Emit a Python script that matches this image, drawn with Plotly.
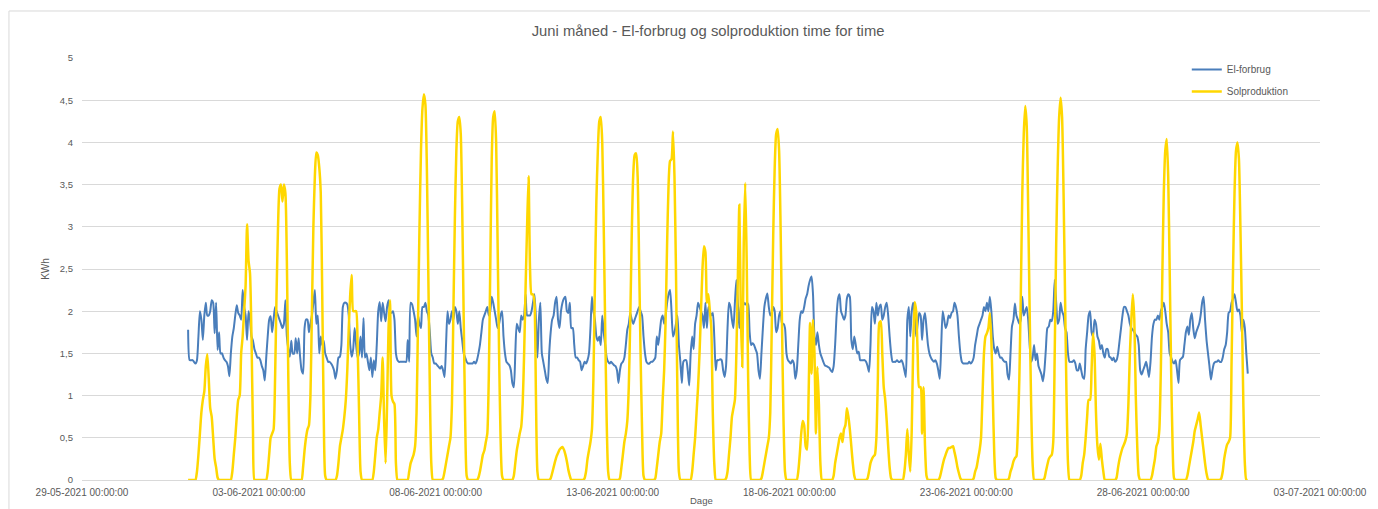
import pandas as pd
import plotly.graph_objects as go

# Hourly values, one list of 24 hours per day, 1-30 June 2021
el_forbrug_dage = [
    [1.78,1.42,1.42,1.42,1.4,1.38,1.42,1.7,2.0,1.9,1.66,1.95,2.1,1.95,1.95,2.0,2.13,2.1,1.74,2.1,1.54,1.75,1.5,1.5],
    [1.45,1.42,1.4,1.35,1.23,1.5,1.7,1.8,1.95,2.07,1.98,1.95,1.9,2.25,2.05,1.95,1.66,2.0,1.9,1.7,1.65,1.55,1.5,1.45],
    [1.45,1.42,1.35,1.3,1.18,1.45,1.7,1.9,1.94,1.75,1.9,2.05,2.0,1.95,1.9,1.85,1.8,1.85,2.13,1.7,1.55,1.46,1.65,1.5],
    [1.5,1.68,1.5,1.68,1.46,1.3,1.26,1.8,1.9,1.9,1.75,1.85,1.95,2.1,2.25,1.85,1.95,1.5,1.7,1.6,1.65,1.5,1.45,1.4],
    [1.4,1.38,1.35,1.3,1.2,1.3,1.45,1.46,1.6,2.05,2.1,2.1,2.08,1.95,1.6,1.46,1.55,1.8,1.6,1.45,1.5,1.7,1.45,1.92],
    [1.45,1.5,1.4,1.3,1.45,1.22,1.42,1.3,1.6,2.0,2.11,1.88,2.1,1.98,1.88,2.05,2.13,2.0,1.98,2.0,1.9,1.5,1.42,1.4],
    [1.4,1.4,1.4,1.4,1.4,1.66,1.4,2.1,2.08,2.0,1.9,1.7,1.95,1.85,1.8,2.05,2.05,2.1,2.0,1.95,1.75,1.5,1.45,1.38],
    [1.38,1.36,1.34,1.32,1.35,1.3,1.22,1.6,2.0,1.85,1.9,2.0,1.9,2.05,2.0,1.85,2.0,1.8,1.65,1.5,1.45,1.4,1.38,1.38],
    [1.38,1.38,1.4,1.38,1.42,1.5,1.6,1.75,1.9,1.95,2.0,2.05,1.95,2.0,2.17,2.1,2.0,1.9,1.8,1.85,1.95,2.0,1.7,1.5],
    [1.4,1.38,1.36,1.3,1.15,1.1,1.5,1.85,1.8,1.75,1.95,1.9,1.95,2.2,1.95,1.95,1.95,2.0,2.1,2.2,1.9,1.45,1.9,2.1],
    [1.5,1.4,1.3,1.2,1.15,1.5,1.75,1.9,1.95,2.1,2.17,1.9,1.8,2.0,2.1,2.15,2.17,2.0,1.98,2.1,1.8,1.8,1.6,1.45],
    [1.45,1.42,1.4,1.3,1.35,1.4,1.38,1.42,1.5,1.8,2.17,2.0,1.9,1.7,1.65,1.7,1.6,1.95,1.75,1.6,1.45,1.4,1.38,1.4],
    [1.38,1.36,1.35,1.3,1.15,1.3,1.38,1.4,1.45,1.6,1.78,1.85,1.98,1.9,1.85,1.9,1.95,2.0,2.05,2.0,1.95,1.7,1.5,1.4],
    [1.38,1.38,1.4,1.4,1.42,1.45,1.7,1.6,1.75,1.9,1.95,1.85,1.95,2.1,2.2,2.25,2.0,1.7,1.75,1.85,1.95,1.6,1.4,1.15],
    [1.4,1.42,1.42,1.3,1.12,1.5,1.7,1.55,1.85,1.95,2.1,2.05,2.0,1.95,1.8,2.1,1.8,2.05,2.0,1.95,1.98,1.7,1.3,1.42],
    [1.42,1.43,1.42,1.3,1.22,1.35,1.8,2.1,2.05,1.9,1.8,2.1,2.37,2.1,1.8,2.05,2.1,2.1,2.08,2.1,2.08,1.75,1.6,1.62],
    [1.6,1.55,1.5,1.3,1.2,1.5,1.8,2.05,2.15,2.21,2.05,1.95,1.98,2.05,2.0,1.75,1.8,1.95,2.0,1.85,1.85,1.8,1.5,1.42],
    [1.4,1.38,1.42,1.38,1.2,1.3,1.6,1.9,2.0,1.98,2.05,2.15,2.2,2.3,2.37,2.41,2.2,1.7,1.6,1.75,1.6,1.5,1.45,1.4],
    [1.36,1.35,1.34,1.33,1.3,1.28,1.35,1.6,1.95,2.15,2.2,2.0,1.95,1.9,1.95,2.15,2.2,2.17,1.66,1.55,1.7,1.6,1.5,1.52],
    [1.42,1.42,1.42,1.42,1.4,1.35,1.28,1.6,2.05,2.0,1.85,2.1,1.95,2.05,2.08,1.9,1.95,2.05,2.1,1.95,1.7,1.5,1.4,1.4],
    [1.4,1.42,1.4,1.4,1.42,1.38,1.3,1.22,1.9,2.05,1.7,2.0,2.1,1.95,1.7,1.85,1.98,1.95,1.66,1.9,1.98,1.8,1.6,1.5],
    [1.45,1.42,1.4,1.42,1.38,1.3,1.2,1.6,2.0,1.9,1.8,1.85,1.95,1.92,1.98,2.0,2.1,2.05,1.95,1.7,1.5,1.4,1.38,1.38],
    [1.38,1.38,1.4,1.38,1.4,1.45,1.6,1.7,1.8,1.85,1.9,1.95,2.05,2.0,2.1,2.0,2.17,2.0,1.7,1.55,1.5,1.58,1.5,1.45],
    [1.45,1.42,1.4,1.4,1.25,1.19,1.5,1.82,1.9,2.09,1.95,1.9,1.85,1.9,2.17,1.95,2.0,2.05,1.9,1.6,1.4,1.45,1.6,1.42],
    [1.5,1.35,1.3,1.25,1.17,1.3,1.55,1.8,1.82,1.9,1.88,2.0,2.37,2.1,1.85,1.9,2.1,2.0,1.95,1.8,1.75,1.5,1.4,1.4],
    [1.4,1.42,1.38,1.3,1.3,1.38,1.3,1.22,1.2,1.55,1.75,1.95,2.0,1.75,1.7,1.9,1.85,1.7,1.65,1.55,1.6,1.5,1.45,1.55],
    [1.55,1.46,1.45,1.42,1.45,1.4,1.42,1.5,1.65,1.8,1.95,2.05,2.05,2.0,1.95,1.85,1.8,1.78,1.75,1.72,1.7,1.6,1.3,1.25],
    [1.3,1.35,1.4,1.32,1.22,1.4,1.7,1.85,1.9,1.9,1.95,1.9,2.0,2.05,2.1,2.0,1.85,1.75,1.5,1.45,1.4,1.38,1.42,1.3],
    [1.15,1.42,1.44,1.46,1.6,1.75,1.82,1.72,1.9,1.98,1.8,1.68,1.75,1.8,1.85,1.95,2.1,2.17,1.9,1.66,1.5,1.35,1.19,1.3],
    [1.38,1.4,1.4,1.42,1.4,1.4,1.45,1.55,1.6,1.75,1.98,2.0,2.1,2.15,2.2,2.1,2.0,2.02,1.95,1.74,1.9,1.8,1.5,1.26],
]

solproduktion_dage = [
    [0,0,0,0,0,0,0.1,0.3,0.55,0.8,0.95,1.05,1.35,1.49,1.2,0.85,0.75,0.5,0.25,0.15,0.03,0,0,0],
    [0,0,0,0,0,0,0.1,0.3,0.5,0.75,0.95,1.0,1.5,1.7,2.0,2.3,3.03,2.6,2.45,1.7,0.6,0,0,0],
    [0,0,0,0,0,0,0.1,0.3,0.5,0.55,0.6,1.2,2.2,3.0,3.45,3.5,3.3,3.5,3.4,2.6,1.2,0.2,0,0],
    [0,0,0,0,0,0,0.15,0.35,0.5,0.6,0.65,1.0,2.0,3.0,3.6,3.88,3.85,3.7,3.4,2.2,0.8,0.05,0,0],
    [0,0,0,0,0,0.05,0.2,0.4,0.5,0.6,0.75,0.95,1.3,1.8,2.2,2.43,2.0,2.0,2.0,1.6,0.8,0.1,0,0],
    [0,0,0,0,0,0,0.1,0.3,0.5,0.6,0.8,1.0,1.45,0.7,0.2,0.9,1.8,2.13,1.0,0.93,0.9,0.2,0,0],
    [0,0,0,0,0,0,0.1,0.2,0.25,0.3,0.4,0.8,1.9,3.0,3.9,4.4,4.57,4.45,3.7,2.4,1.1,0.2,0,0],
    [0,0,0,0,0,0.02,0.1,0.2,0.3,0.4,0.5,0.9,2.0,3.1,3.9,4.25,4.3,4.1,3.2,1.9,0.7,0.05,0,0],
    [0,0,0,0,0,0.03,0.1,0.2,0.3,0.35,0.45,0.55,1.2,2.5,3.8,4.3,4.37,4.0,2.8,1.5,0.5,0.05,0,0],
    [0,0,0,0,0,0.05,0.2,0.35,0.45,0.55,0.63,0.9,1.5,2.3,3.0,3.6,2.5,2.2,2.2,2.1,1.0,0.1,0,0],
    [0,0,0,0,0,0,0.02,0.08,0.15,0.22,0.28,0.32,0.36,0.38,0.39,0.36,0.3,0.22,0.12,0.05,0,0,0,0],
    [0,0,0,0,0,0.02,0.1,0.25,0.35,0.45,0.6,1.2,2.3,3.3,3.9,4.25,4.3,4.0,3.0,1.8,0.7,0.1,0,0],
    [0,0,0,0,0,0.02,0.15,0.3,0.45,0.55,0.7,1.1,1.9,2.9,3.6,3.85,3.87,3.6,2.6,1.5,0.6,0.05,0,0],
    [0,0,0,0,0,0.02,0.15,0.3,0.45,0.55,0.95,1.3,1.9,2.8,3.5,3.78,3.8,4.13,3.6,2.5,1.0,0.1,0,0],
    [0,0,0,0,0,0,0.1,0.3,0.5,0.8,1.1,1.5,2.0,2.5,2.77,2.7,2.1,2.2,2.0,1.8,0.8,0.2,0,0],
    [0,0,0,0,0,0.02,0.1,0.3,0.5,0.75,0.85,0.95,1.5,2.4,3.26,2.0,1.34,2.8,3.52,2.6,1.2,0.3,0,0],
    [0,0,0,0,0,0.02,0.1,0.2,0.3,0.4,0.5,0.8,1.8,2.9,3.7,4.1,4.16,3.9,3.0,1.8,0.7,0.1,0,0],
    [0,0,0,0,0,0,0.1,0.3,0.55,0.7,0.65,0.4,0.36,1.0,1.86,1.26,1.9,1.5,0.55,1.34,0.9,0.2,0,0],
    [0,0,0,0,0,0,0.05,0.2,0.3,0.4,0.5,0.55,0.45,0.6,0.65,0.85,0.75,0.6,0.4,0.2,0.05,0,0,0],
    [0,0,0,0,0,0.02,0.1,0.2,0.25,0.28,0.3,0.5,1.2,1.86,1.88,1.5,1.1,0.95,0.7,0.4,0.15,0.02,0,0],
    [0,0,0,0,0,0,0.1,0.3,0.6,0.3,0.1,0.6,1.6,2.11,2.0,1.5,1.1,1.1,0.55,1.1,0.4,0.05,0,0],
    [0,0,0,0,0,0,0.03,0.1,0.18,0.25,0.3,0.35,0.38,0.38,0.39,0.4,0.33,0.25,0.15,0.08,0.02,0,0,0],
    [0,0,0,0,0,0.02,0.1,0.15,0.25,0.35,0.5,1.0,1.5,1.7,1.74,1.8,1.98,1.66,1.0,0.3,0.02,0,0,0],
    [0,0,0,0,0,0.02,0.1,0.15,0.22,0.26,0.28,0.6,1.2,2.2,3.4,4.1,4.43,4.2,3.2,2.0,0.9,0.2,0,0],
    [0,0,0,0,0,0.02,0.1,0.18,0.25,0.28,0.3,0.45,1.5,2.8,3.7,4.3,4.53,4.3,3.4,2.2,1.0,0.2,0,0],
    [0,0,0,0,0,0,0.05,0.2,0.3,0.5,0.75,0.95,0.95,1.3,1.74,1.5,0.8,0.4,0.24,0.43,0.24,0.1,0,0],
    [0,0,0,0,0,0,0.03,0.15,0.25,0.32,0.38,0.42,0.47,0.55,0.9,1.5,1.9,2.2,1.9,1.0,0.4,0.05,0,0],
    [0,0,0,0,0,0,0.05,0.15,0.25,0.4,0.45,0.6,1.3,2.4,3.4,3.9,4.04,3.6,2.5,1.3,0.4,0.02,0,0],
    [0,0,0,0,0,0,0.05,0.15,0.25,0.35,0.45,0.58,0.65,0.72,0.8,0.65,0.5,0.35,0.2,0.08,0.01,0,0,0],
    [0,0,0,0,0,0.02,0.1,0.25,0.35,0.42,0.45,0.5,1.4,2.5,3.4,3.9,4.0,3.8,3.0,2.0,0.9,0.2,0,0],
]

serie_navne = ["El-forbrug", "Solproduktion"]
titel = "Juni måned - El-forbrug og solproduktion time for time"
x_titel = "Dage"
y_titel = "KWh"

el_forbrug = [v for dag in el_forbrug_dage for v in dag]
solproduktion = [v for dag in solproduktion_dage for v in dag]
tid = pd.date_range("2021-06-01 00:00", periods=len(el_forbrug), freq="h")

FONT = "Liberation Sans"
GREY = "#595959"
OFF = 8  # page body margin in the browser
W, H = 1378 - OFF, 509 - OFF
PLOT_H = 422

fig = go.Figure()
fig.add_trace(go.Scatter(
    x=tid, y=el_forbrug, name=serie_navne[0], mode="lines", legendgroup="a",
    line=dict(color="#4a7ebb", width=2, shape="spline", smoothing=0.6),
))
fig.add_trace(go.Scatter(
    x=tid, y=solproduktion, name=serie_navne[1], mode="lines", legendgroup="b",
    line=dict(color="#ffd700", width=2.5, shape="spline", smoothing=0.6),
))

fig.update_layout(
    width=W, height=H,
    margin=dict(l=82 - OFF, r=58, t=58 - OFF, b=29),
    paper_bgcolor="white", plot_bgcolor="white",
    separators=", ",
    font=dict(family=FONT, color=GREY),
    title=dict(text=titel, x=0.5057, xref="paper", xanchor="center",
               y=1 - (31 - OFF) / H, yref="container", yanchor="middle",
               font=dict(family=FONT, size=14.8, color=GREY)),
    legend=dict(x=0.8924, y=1.007, xanchor="left", yanchor="top",
                traceorder="grouped", tracegroupgap=3,
                bgcolor="rgba(0,0,0,0)", font=dict(family=FONT, size=10, color=GREY)),
    shapes=[dict(type="rect", xref="paper", yref="paper",
                 x0=-0.059, x1=1.07, y0=-0.12, y1=1.1114,
                 line=dict(color="#d9d9d9", width=1), fillcolor="rgba(0,0,0,0)", layer="below")],
    annotations=[dict(text=x_titel, xref="paper", yref="paper", x=0.5, y=-28 / PLOT_H,
                      xanchor="center", yanchor="bottom", showarrow=False,
                      font=dict(family=FONT, size=9.5, color=GREY))],
)

fig.update_xaxes(
    type="date", range=["2021-05-29", "2021-07-03"],
    tick0="2021-05-29", dtick=5 * 86400000,
    tickformat="%d-%m-%Y %H:%M:%S",
    showgrid=False, zeroline=False, showline=True, linecolor="#d9d9d9", linewidth=1,
    ticks="", ticklabelstandoff=3,
    tickfont=dict(family=FONT, size=10, color=GREY),
    automargin=False,
)
fig.update_yaxes(
    range=[0, 5], tick0=0, dtick=0.5,
    showgrid=True, gridcolor="#d9d9d9", gridwidth=1,
    zeroline=False, showline=False, ticks="", ticklabelstandoff=8,
    tickfont=dict(family=FONT, size=9.5, color=GREY),
    title=dict(text=y_titel, font=dict(family=FONT, size=10, color=GREY), standoff=8),
    automargin=False,
)

fig.write_html("out.html")
